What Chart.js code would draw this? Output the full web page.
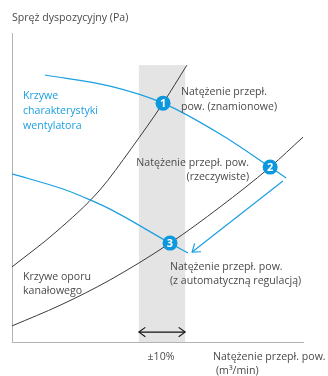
<!DOCTYPE html>
<html><head><meta charset="utf-8">
<script src="https://cdn.jsdelivr.net/npm/chart.js@4/dist/chart.umd.min.js"></script>
<style>html,body{margin:0;padding:0;background:#fff}canvas{display:block}</style>
</head><body>
<canvas id="c" width="328" height="376"></canvas>
<script>
// Fan characteristic curves (flow %, pressure %)
const fanHighX = [11.3, 33.7, 51.9, 71.5, 88.7, 94.2];
const fanHighY = [86.4, 82.8, 77.3, 67.3, 56.6, 53.1];
const fanLowX  = [0, 17.5, 26.8, 33.7, 54.3, 60.5];
const fanLowY  = [54.4, 49.5, 46.0, 43.0, 32.0, 28.8];
// Duct resistance curves
const ductSteepX = [0, 15.1, 30.2, 40.9, 51.9, 60.1];
const ductSteepY = [24.3, 35.6, 49.2, 62.5, 77.3, 89.6];
const ductFlatX  = [0, 16.8, 33.7, 54.3, 71.5, 88.7, 100];
const ductFlatY  = [5.2, 12.0, 20.1, 32.0, 43.7, 56.6, 66.3];
// Operating points
const pointLabels = ['1', '2', '3'];
const pointX = [51.9, 88.7, 54.3];
const pointY = [77.3, 56.6, 32.0];
// ±10% band and arrows
const bandX = [43.6, 59.5];
const bandTop = 89.6;
const rangeArrowY = 3.2;
const shiftArrowX = [93.1, 61.9];
const shiftArrowY = [52.1, 29.1];

const BLUE = '#1a9fe0';
const TEXT = '#4a4a4a';
const FONT = '10.6px "Open Sans", sans-serif';

const pts = (xs, ys) => xs.map((x, i) => ({x, y: ys[i]}));

function arrowHead(ctx, x1, y1, x2, y2, len) {
  const a = Math.atan2(y2 - y1, x2 - x1);
  ctx.beginPath();
  ctx.moveTo(x2 - len * Math.cos(a - Math.PI / 5), y2 - len * Math.sin(a - Math.PI / 5));
  ctx.lineTo(x2, y2);
  ctx.lineTo(x2 - len * Math.cos(a + Math.PI / 5), y2 - len * Math.sin(a + Math.PI / 5));
  ctx.stroke();
}

const deco = {
  id: 'deco',
  beforeDatasetsDraw(chart) {
    const {ctx, chartArea, scales: {x, y}} = chart;
    ctx.save();
    ctx.fillStyle = '#e4e4e4';
    const l = x.getPixelForValue(bandX[0]), r = x.getPixelForValue(bandX[1]);
    const t = y.getPixelForValue(bandTop);
    ctx.fillRect(l, t, r - l, chartArea.bottom - t);
    ctx.restore();
  },
  afterDatasetsDraw(chart) {
    const {ctx, scales: {x, y}} = chart;
    ctx.save();
    // blue shift arrow
    ctx.strokeStyle = BLUE; ctx.lineWidth = 1.2;
    const ax1 = x.getPixelForValue(shiftArrowX[0]), ay1 = y.getPixelForValue(shiftArrowY[0]);
    const ax2 = x.getPixelForValue(shiftArrowX[1]), ay2 = y.getPixelForValue(shiftArrowY[1]);
    ctx.beginPath(); ctx.moveTo(ax1, ay1); ctx.lineTo(ax2, ay2); ctx.stroke();
    arrowHead(ctx, ax1, ay1, ax2, ay2, 9);
    // double arrow ±10%
    ctx.strokeStyle = '#111'; ctx.lineWidth = 1.1;
    const dl = x.getPixelForValue(bandX[0]), dr = x.getPixelForValue(bandX[1]);
    const dy = y.getPixelForValue(rangeArrowY);
    ctx.beginPath(); ctx.moveTo(dl, dy); ctx.lineTo(dr, dy); ctx.stroke();
    arrowHead(ctx, dl, dy, dr, dy, 8);
    arrowHead(ctx, dr, dy, dl, dy, 8);
    // point numbers
    ctx.fillStyle = '#fff';
    ctx.font = 'bold 11px "Open Sans", sans-serif';
    ctx.textAlign = 'center'; ctx.textBaseline = 'middle';
    pointLabels.forEach((s, i) => {
      ctx.fillText(s, x.getPixelForValue(pointX[i]), y.getPixelForValue(pointY[i]) + 0.5);
    });
    // texts
    ctx.font = FONT; ctx.textBaseline = 'middle';
    const txt = (s, px, py, align, color) => {
      ctx.textAlign = align || 'left'; ctx.fillStyle = color || TEXT; ctx.fillText(s, px, py);
    };
    txt('Spręż dyspozycyjny (Pa)', 12, 18);
    txt('Krzywe', 23, 96, 'left', BLUE);
    txt('charakterystyki', 23, 111, 'left', BLUE);
    txt('wentylatora', 23, 126, 'left', BLUE);
    txt('Natężenie przepł.', 181, 92);
    txt('pow. (znamionowe)', 181, 107);
    txt('Natężenie przepł. pow.', 249, 163, 'right');
    txt('(rzeczywiste)', 249, 177, 'right');
    txt('Krzywe oporu', 23, 277);
    txt('kanałowego', 23, 291);
    txt('Natężenie przepł. pow.', 170, 267);
    txt('(z automatyczną regulacją)', 170, 281);
    txt('±10%', 161, 357, 'center');
    txt('Natężenie przepł. pow.', 213, 357);
    txt('(m³/min)', 216, 371);
    ctx.restore();
  }
};

const lineDs = (xs, ys, color, w) => ({
  data: pts(xs, ys), showLine: true, borderColor: color, borderWidth: w,
  pointRadius: 0, tension: 0.4, cubicInterpolationMode: 'monotone', fill: false
});

new Chart(document.getElementById('c'), {
  type: 'scatter',
  data: {
    datasets: [
      {data: pts(pointX, pointY), pointRadius: 7.5, pointHoverRadius: 7.5,
       backgroundColor: '#0d98dd', borderColor: '#0d98dd', borderWidth: 0, showLine: false},
      lineDs(fanHighX, fanHighY, BLUE, 1.2),
      lineDs(fanLowX, fanLowY, BLUE, 1.2),
      lineDs(ductSteepX, ductSteepY, '#3a3a3a', 1),
      lineDs(ductFlatX, ductFlatY, '#3a3a3a', 1)
    ]
  },
  options: {
    responsive: false, animation: false,
    layout: {padding: {left: 12, right: 25, top: 33, bottom: 34}},
    plugins: {legend: {display: false}, tooltip: {enabled: false}},
    scales: {
      x: {type: 'linear', min: 0, max: 100, ticks: {display: false},
          grid: {display: false}, border: {display: true, color: '#b3b3b3', width: 1},
          afterFit: s => { s.height = 0; }},
      y: {type: 'linear', min: 0, max: 100, ticks: {display: false},
          grid: {display: false}, border: {display: true, color: '#b3b3b3', width: 1},
          afterFit: s => { s.width = 0; }}
    }
  },
  plugins: [deco]
});
</script>
</body></html>
